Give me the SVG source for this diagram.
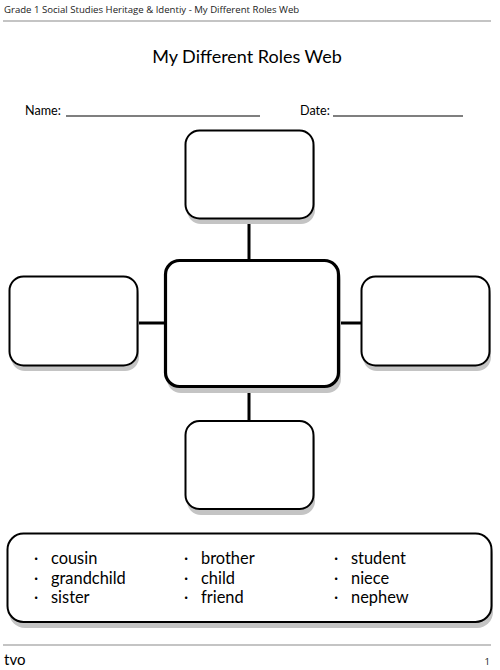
<svg xmlns="http://www.w3.org/2000/svg" width="500" height="670" viewBox="0 0 500 670">
<style>
.box{fill:#fff;stroke:#000;stroke-width:2}
.center{fill:#fff;stroke:#000;stroke-width:3.2}
.shadow{fill:#c4c4c4}
.conn{stroke:#000;stroke-width:3;fill:none}
.rule{stroke:#8a8a8a;stroke-width:1.2}
.uline{stroke:#000;stroke-width:1.2}
.hdr{font-family:"Open Sans",sans-serif;font-size:9.6px;fill:#222}
.title{font-family:"Lato",sans-serif;font-size:18px;fill:#000}
.lbl{font-family:"Lato",sans-serif;font-size:12.6px;fill:#000}
.word{font-family:"Lato",sans-serif;font-size:16.4px;fill:#000}
.dot{fill:#444}
</style>
<rect width="500" height="670" fill="#fff"/>
<text class="hdr" x="4" y="13">Grade 1 Social Studies Heritage &amp; Identiy - My Different Roles Web</text>
<line class="rule" x1="3" y1="21" x2="491" y2="21"/>
<text class="title" x="247" y="63" text-anchor="middle">My Different Roles Web</text>
<g id="name-date">
<text class="lbl" x="25" y="115">Name:</text>
<line class="uline" x1="66" y1="116" x2="260" y2="116"/>
<text class="lbl" x="300" y="115">Date:</text>
<line class="uline" x1="333" y1="116" x2="463" y2="116"/>
</g>
<g id="connectors">
<line class="conn" x1="249" y1="218" x2="249" y2="261"/>
<line class="conn" x1="249" y1="386" x2="249" y2="421"/>
<line class="conn" x1="137" y1="323" x2="166" y2="323"/>
<line class="conn" x1="338" y1="323" x2="361" y2="323"/>
</g>
<g id="top">
<rect class="shadow" x="187" y="136" width="128" height="88" rx="14"/>
<rect class="box" x="185.5" y="130.5" width="128" height="88" rx="14"/>
</g>
<g id="left">
<rect class="shadow" x="11" y="282" width="128" height="89" rx="14"/>
<rect class="box" x="9.5" y="276.5" width="128" height="89" rx="14"/>
</g>
<g id="right">
<rect class="shadow" x="363" y="282" width="128" height="89" rx="14"/>
<rect class="box" x="361.5" y="276.5" width="128" height="89" rx="14"/>
</g>
<g id="center">
<rect class="shadow" x="167" y="266" width="174" height="127" rx="14"/>
<rect class="center" x="165.5" y="260.5" width="173" height="126" rx="14"/>
</g>
<g id="bottom">
<rect class="shadow" x="187" y="427" width="128" height="88" rx="14"/>
<rect class="box" x="185.5" y="421" width="128" height="88" rx="14"/>
</g>
<g id="wordbank">
<rect class="shadow" x="9" y="539" width="484" height="89" rx="16"/>
<rect class="box" x="7.5" y="533.5" width="484" height="88.5" rx="16"/>
<g class="word">
<text x="34" y="564">·</text><text x="51" y="564">cousin</text>
<text x="34" y="584">·</text><text x="51" y="584">grandchild</text>
<text x="34" y="603">·</text><text x="51" y="603">sister</text>
<text x="184" y="564">·</text><text x="201" y="564">brother</text>
<text x="184" y="584">·</text><text x="201" y="584">child</text>
<text x="184" y="603">·</text><text x="201" y="603">friend</text>
<text x="334" y="564">·</text><text x="351" y="564">student</text>
<text x="334" y="584">·</text><text x="351" y="584">niece</text>
<text x="334" y="603">·</text><text x="351" y="603">nephew</text>
</g>
</g>
<line class="rule" x1="3" y1="645" x2="491" y2="645"/>
<text class="title" x="4" y="665" style="font-size:15px">tvo</text>
<text class="hdr" x="490" y="665" text-anchor="end">1</text>
</svg>
